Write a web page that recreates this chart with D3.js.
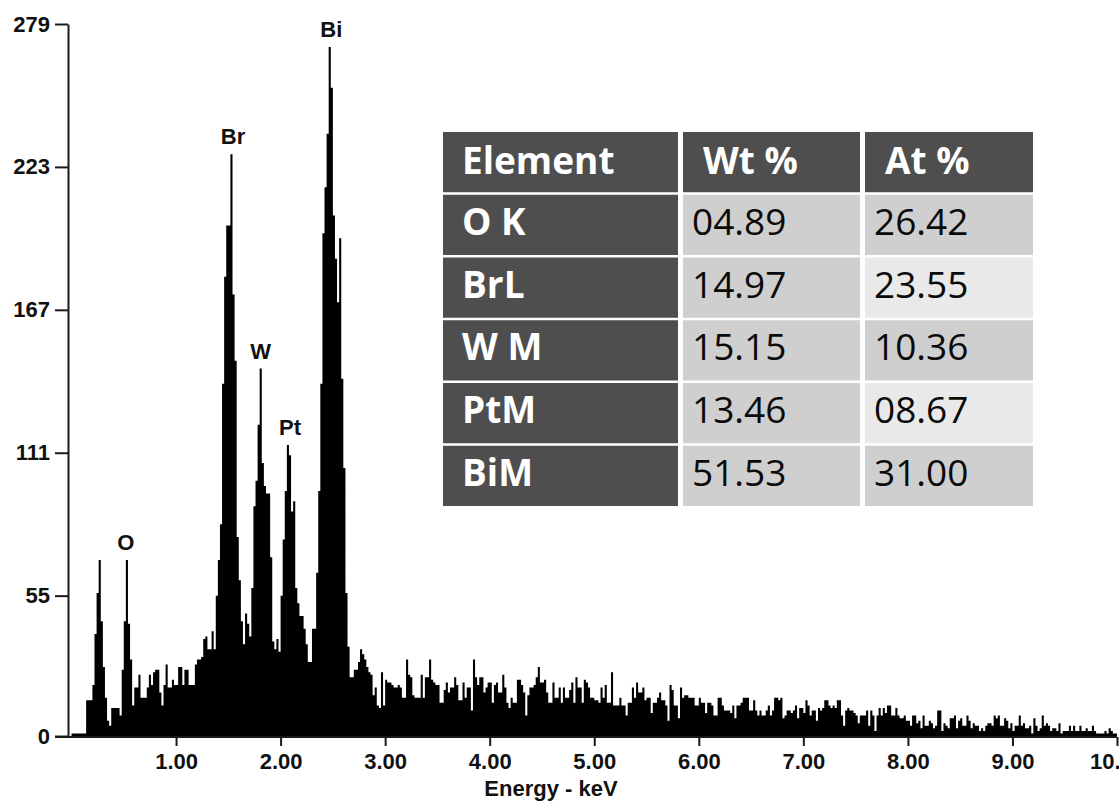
<!DOCTYPE html>
<html><head><meta charset="utf-8">
<script src="https://cdn.jsdelivr.net/npm/d3@7"></script>
<style>html,body{margin:0;padding:0;background:#fff;overflow:hidden}</style>
</head><body><svg id="chart" width="1119" height="802"></svg>
<script>
// ---- data ----
const binWidthKeV = 0.02;
const counts_0_2 = [1,1,1,1,1,1,1,14,14,14, 20,40,56,69,45,27,15,6,4,11, 11,11,11,8,26,45,69,44,30,12,
  19,19,24,15,15,15,19,24,20,25, 26,26,17,12,20,28,19,19,22,20, 20,27,27,20,26,26,20,20,20,28,
  30,30,31,38,39,34,34,41,34,55, 69,83,138,180,200,200,228,173,147,78, 61,45,36,48,44,39,58,90,100,122,
  144,107,98,95,95,70,37,34,38,33];
const counts_2_4 = [55,77,96,114,110,88,92,58,52,47, 47,42,36,29,29,42,42,64,96,138,
  197,215,236,270,254,204,187,170,195,140, 105,56,35,23,23,26,26,29,34,32, 30,27,25,24,16,19,12,11,25,12,
  22,21,21,20,19,19,20,19,15,15, 30,24,23,16,15,15,15,24,15,23, 23,30,22,21,20,20,13,13,18,21,
  17,19,19,23,20,14,14,21,15,19, 19,10,30,23,20,23,23,17,19,21];
const counts_4_6 = [21,13,20,21,17,17,24,19,13,11, 15,13,13,22,22,20,17,8,16,19, 19,20,23,27,21,21,22,17,13,13,
  21,15,15,19,13,19,15,15,18,21, 13,23,19,19,13,22,21,19,15,15, 14,14,13,19,15,20,13,13,25,12,
  12,12,15,12,12,8,13,13,19,15, 21,17,17,19,14,15,15,9,13,13, 15,17,14,14,12,6,20,18,12,12,
  7,19,15,16,16,15,15,15,12,12];
const counts_6_8 = [15,13,13,9,13,13,12,8,8,15, 15,12,10,10,
  10,9,12,7,12,12, 13,15,15,15,10,10, 14,10,8,10,8,8, 10,12,8,10,15,15, 14,15,7,8,10,10,
  9,10,12,7,11,11, 9,14,12,8,10,10, 6,11,10,11,14,14, 12,11,12,11,14,14, 8,4,10,11,10,10,
  9,8,5,8,8,8, 10,4,10,8,2,8, 11,8,11,9,12,12, 8,8,11,8,7,7, 8,6,6,4,8,8, 5,6];
const counts_8_10 = [3,8,4,4, 6,5,3,4,10,10, 2,5,4,3,7,7, 8,3,6,7,4,4, 8,6,3,5,4,4, 2,3,2,4,5,5,
  4,8,7,8,4,4, 7,6,3,5,2,4, 4,8,4,5,3,3, 4,1,7,4,2,3, 8,4,5,4,2,3, 3,2,5,1,2,2,
  2,4,2,4,2,2, 4,2,2,3,2,2, 4,2,1,1,1,1, 2,1,3,2,1,1];
const counts = [].concat(counts_0_2, counts_2_4, counts_4_6, counts_6_8, counts_8_10);

const xTickValues = [1,2,3,4,5,6,7,8,9,10];
const xTickLabels = ["1.00","2.00","3.00","4.00","5.00","6.00","7.00","8.00","9.00","10.00"];
const yTickValues = [0,55,111,167,223,279];
const xTitle = "Energy - keV";

const peakNames    = ["O","Br","W","Pt","Bi"];
const peakEnergies = [0.52,1.545,1.81,2.09,2.485];
const peakHeights  = [69,228,144,114,270];

const tableHeader = ["Element","Wt %","At %"];
const elements = ["O K","BrL","W M","PtM","BiM"];
const wtPct = ["04.89","14.97","15.15","13.46","51.53"];
const atPct = ["26.42","23.55","10.36","08.67","31.00"];

// ---- drawing ----
const svg = d3.select("#chart");
const x = d3.scaleLinear().domain([0,10]).range([71.5,1117]);
const y = d3.scaleLinear().domain([0,279]).range([736,24]);
const axisFont = "'Liberation Sans', Arial, sans-serif";
const axisSize = 22;

const pts = counts.map((c,i)=>({e:i*binWidthKeV, c}));
pts.push({e: counts.length*binWidthKeV, c: counts[counts.length-1]});
const area = d3.area().curve(d3.curveStepAfter)
  .x(d=>x(d.e)).y0(y(0)).y1(d=>y(d.c));
svg.append("path").datum(pts).attr("d",area).attr("fill","#000");

// y axis
const yAxis = d3.axisLeft(y).tickValues(yTickValues).tickFormat(d=>d)
  .tickSize(13).tickPadding(5).tickSizeOuter(0);
const gy = svg.append("g").attr("transform","translate(68,0)").call(yAxis);
// x axis
const xAxis = d3.axisBottom(x).tickValues(xTickValues).tickFormat((d,i)=>xTickLabels[i])
  .tickSize(9).tickPadding(7).tickSizeOuter(0);
const gx = svg.append("g").attr("transform","translate(0,737)").call(xAxis);
gx.select(".domain").attr("d","M55,0H"+x(10));
[gx,gy].forEach(g=>{
  g.selectAll("path,line").attr("stroke","#1a1a1a").attr("stroke-width",2);
  g.selectAll("text").attr("font-family",axisFont).attr("font-weight","bold")
    .attr("font-size",axisSize).attr("fill","#111");
});
svg.append("text").attr("x",551).attr("y",796).attr("text-anchor","middle")
  .attr("font-family",axisFont).attr("font-weight","bold").attr("font-size",axisSize)
  .attr("fill","#111").text(xTitle);

// peak labels
svg.selectAll("text.peak").data(peakNames).join("text").attr("class","peak")
  .attr("x",(d,i)=>x(peakEnergies[i])).attr("y",(d,i)=>y(peakHeights[i])-10)
  .attr("text-anchor","middle").attr("font-family",axisFont).attr("font-weight","bold")
  .attr("font-size",axisSize).attr("fill","#111").text(d=>d);

// table
const colX = [443,683,865];
const colW = [237,179,170];
const rowY = d3.scaleBand().domain(d3.range(6)).range([132,506]).paddingInner(0.04);
const dark="#4e4e4e", mid="#cfcfcf", light="#e9e9e9";
const tbl = svg.append("g");
const tableFont = "'Open Sans', 'Noto Sans', sans-serif";
const rows = [tableHeader].concat(elements.map((e,i)=>[e,wtPct[i],atPct[i]]));
rows.forEach((r,ri)=>{
  r.forEach((txt,ci)=>{
    let fill = dark;
    if (ri>0 && ci===1) fill = mid;
    if (ri>0 && ci===2) fill = (ri%2===0) ? light : mid;
    tbl.append("rect").attr("x",colX[ci]).attr("y",rowY(ri))
      .attr("width",colW[ci]-2).attr("height",rowY.bandwidth()).attr("fill",fill);
    const white = (ri===0 || ci===0);
    tbl.append("text")
      .attr("x", colX[ci] + (ci===0?19:(ri===0?20:9)))
      .attr("y", rowY(ri)+ (ri===0?42:40))
      .attr("font-family",tableFont)
      .attr("font-weight", white?"bold":"normal")
      .attr("font-size",37)
      .attr("fill", white?"#fff":"#0a0a0a")
      .text(txt);
  });
});
</script></body></html>
